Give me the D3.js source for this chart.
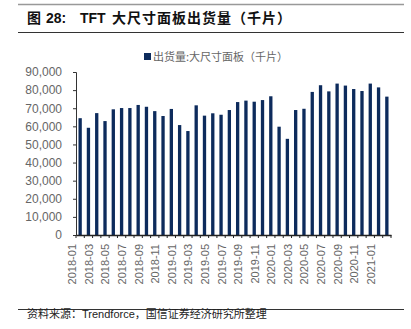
<!DOCTYPE html>
<html><head><meta charset="utf-8">
<script src="https://cdn.jsdelivr.net/npm/d3@7"></script>
<style>
html,body{margin:0;padding:0;background:#fff;}
svg{display:block;}
</style></head>
<body>
<svg id="c" width="411" height="329"></svg>
<script>
const months = ["2018-01","2018-02","2018-03","2018-04","2018-05","2018-06","2018-07","2018-08","2018-09","2018-10","2018-11","2018-12",
"2019-01","2019-02","2019-03","2019-04","2019-05","2019-06","2019-07","2019-08","2019-09","2019-10","2019-11","2019-12",
"2020-01","2020-02","2020-03","2020-04","2020-05","2020-06","2020-07","2020-08","2020-09","2020-10","2020-11","2020-12",
"2021-01","2021-02"];
const shipments = [64500,59200,67300,62900,69400,70100,70100,71800,70800,68400,65700,69600,
60700,57400,71600,65900,67200,66400,69000,73400,74200,73600,74500,76600,
59800,53100,69000,69700,79000,82700,79300,83600,82500,80600,79500,83600,
81500,76400];
const yTicks = [0,10000,20000,30000,40000,50000,60000,70000,80000,90000];
const titleParts = ["图", "28:", "TFT", "大尺寸面板出货量（千片）"];
const legendText = "出货量:大尺寸面板（千片）";
const sourceText = "资料来源：Trendforce，国信证券经济研究所整理";

const svg = d3.select("#c");
const cjk = "'Liberation Sans', Arial, 'Noto Sans CJK SC', sans-serif";

// header lines
svg.append("line").attr("x1",18).attr("x2",404).attr("y1",4.5).attr("y2",4.5).attr("stroke","#999").attr("stroke-width",1.5);
svg.append("line").attr("x1",18).attr("x2",404).attr("y1",32.5).attr("y2",32.5).attr("stroke","#333").attr("stroke-width",1);
const title = svg.append("text").attr("y",23).attr("font-family",cjk).attr("font-weight","bold")
  .attr("font-size",14).attr("fill","#111");
const titleX = [27, 46, 80, 112];
titleParts.forEach((t,i)=>{
  const ts = title.append("tspan").attr("x",titleX[i]).text(t);
  if (i===3) ts.attr("letter-spacing",1);
});

// footer
svg.append("line").attr("x1",18).attr("x2",404).attr("y1",309.5).attr("y2",309.5).attr("stroke","#333").attr("stroke-width",1);
svg.append("text").attr("x",27).attr("y",318).attr("font-family",cjk)
  .attr("font-size",11).attr("fill","#222").text(sourceText);

const x = d3.scaleBand().domain(months).range([76,391]).paddingInner(0.6).paddingOuter(0.3);
const y = d3.scaleLinear().domain([0,90000]).range([235,72]);

// bars
svg.append("g").selectAll("rect").data(months).join("rect")
  .attr("x", d=>x(d)).attr("width", x.bandwidth())
  .attr("y", (d,i)=>y(shipments[i])).attr("height",(d,i)=>y(0)-y(shipments[i]))
  .attr("fill","#0d2b5c");

// y axis
const ya = svg.append("g").attr("transform","translate(76,0)")
  .call(d3.axisLeft(y).tickValues(yTicks).tickSize(3).tickPadding(11).tickFormat(d3.format(",")));
ya.select(".domain").attr("stroke","#333");
ya.selectAll(".tick line").attr("stroke","#333");
ya.selectAll("text").attr("font-family","'Liberation Sans', Arial, sans-serif").attr("font-size",12).attr("fill","#666");

// x axis
const xa = svg.append("g").attr("transform","translate(0,235)")
  .call(d3.axisBottom(x).tickSize(0).tickFormat((d,i)=> i%2===0 ? d : ""));
xa.select(".domain").attr("stroke","#222").attr("stroke-width",1.5);
xa.selectAll("text").attr("font-family","'Liberation Sans', Arial, sans-serif").attr("font-size",11).attr("fill","#666")
  .attr("transform","rotate(-90)").attr("text-anchor","end").attr("dx","-9").attr("dy","-0.35em").attr("y",0).attr("x",0);
// category boundary ticks
const step = x.step();
const bounds = months.map(m => x(m) - (step - x.bandwidth())/2).concat([x(months[months.length-1]) + x.bandwidth() + (step - x.bandwidth())/2]);
svg.append("g").selectAll("line").data(bounds).join("line")
  .attr("x1",d=>d).attr("x2",d=>d).attr("y1",235).attr("y2",238).attr("stroke","#222");

// legend
const lg = svg.append("g");
lg.append("rect").attr("x",144).attr("y",53).attr("width",7).attr("height",7).attr("fill","#0d2b5c");
lg.append("text").attr("x",153).attr("y",60.5).attr("font-family","'Noto Sans CJK SC', sans-serif")
  .attr("font-size",11).attr("fill","#666").text(legendText);
</script>
</body></html>
